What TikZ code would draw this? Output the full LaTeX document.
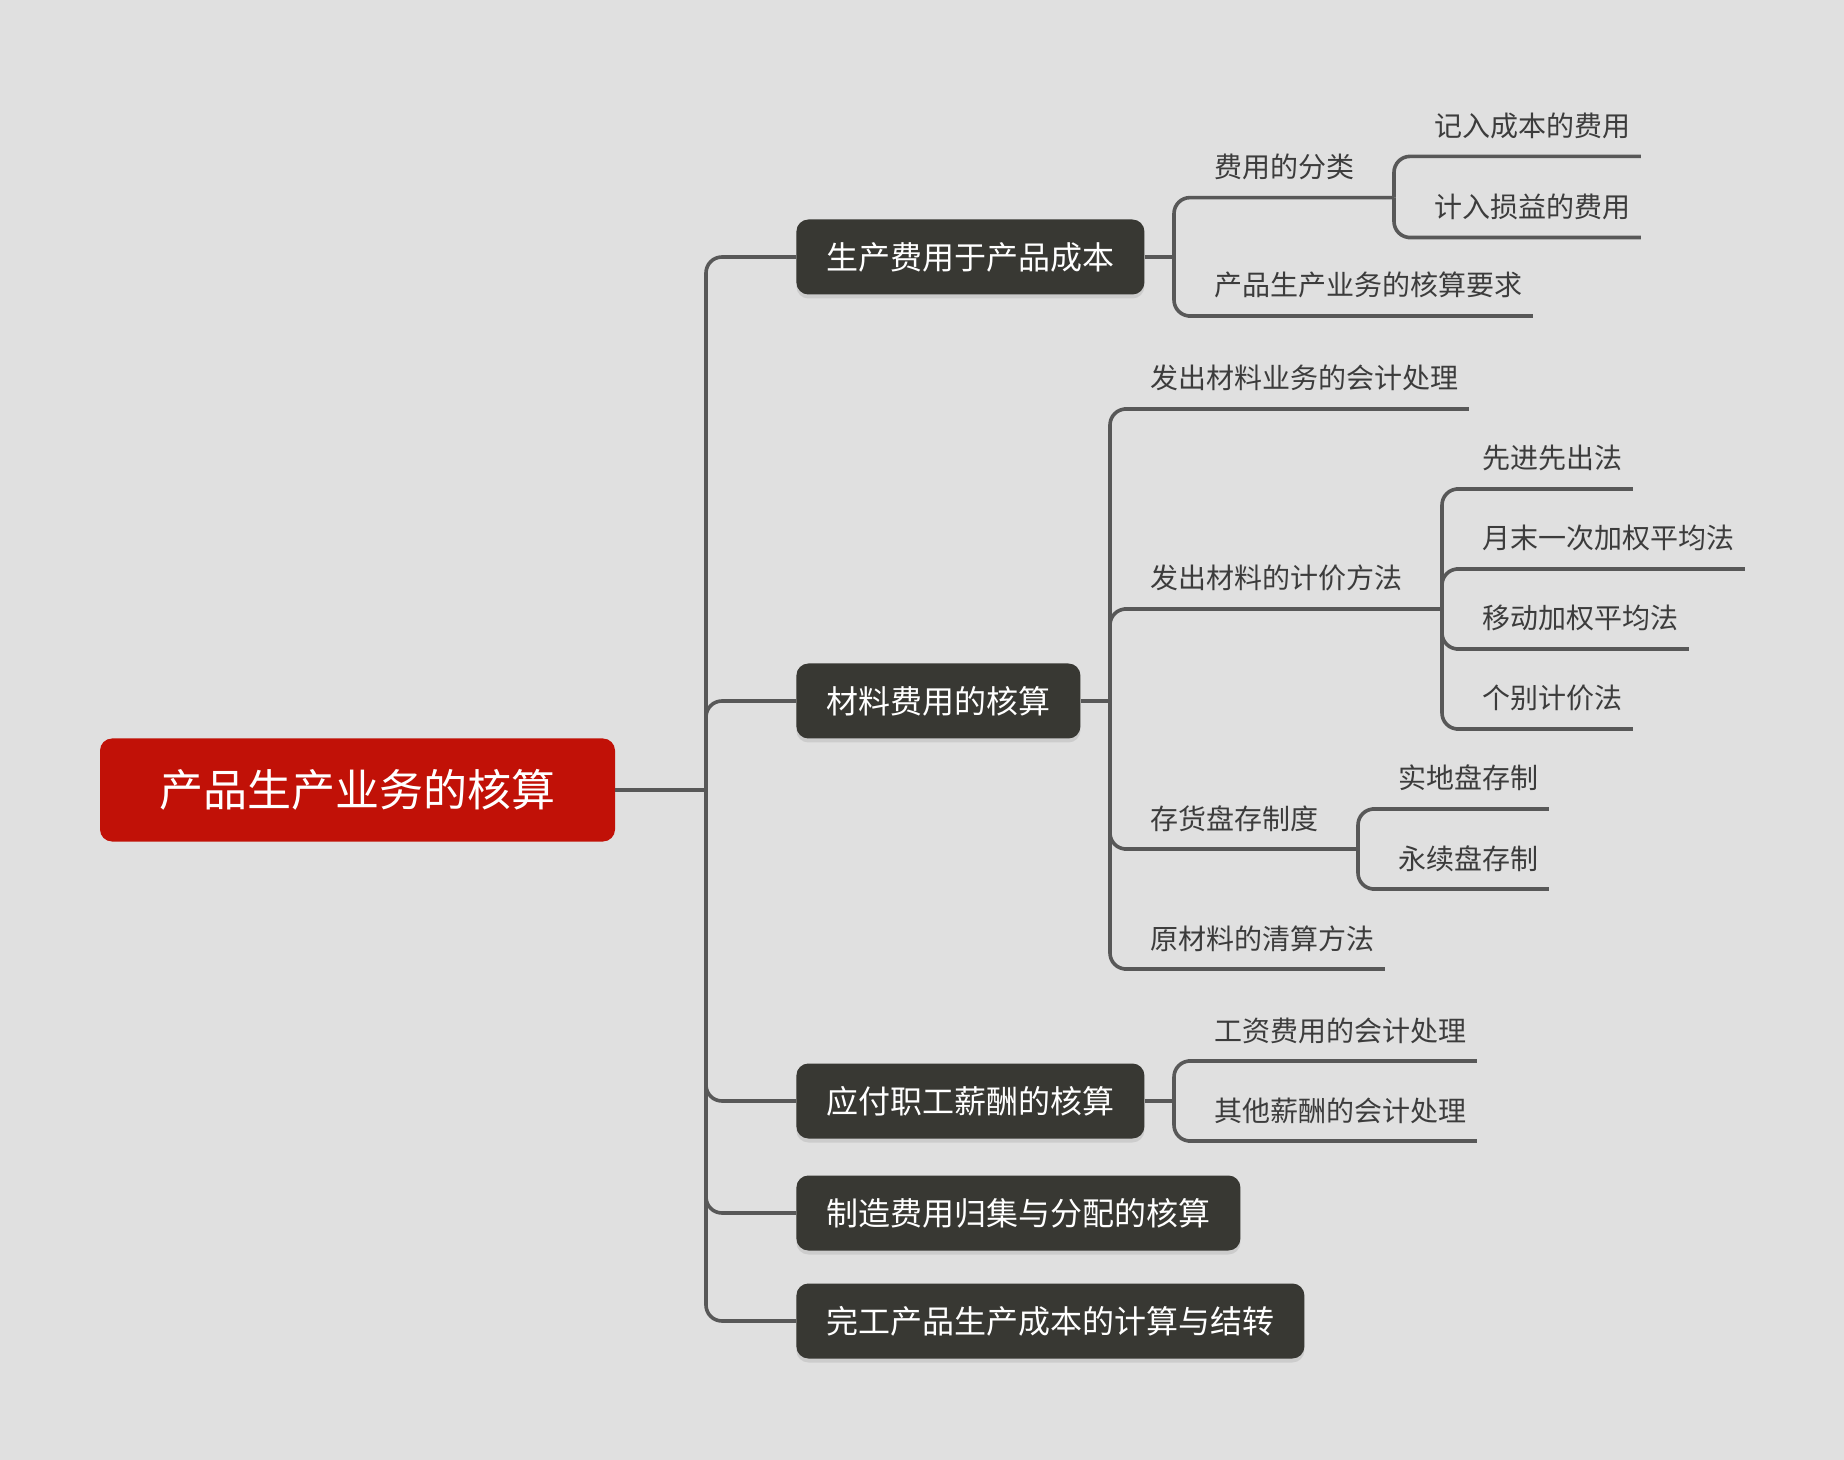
\documentclass[tikz,border=0pt]{standalone}
\usepackage{fontspec}
\setmainfont{Noto Sans CJK SC}
\usepackage{xcolor}
\usetikzlibrary{positioning,shadows}
\definecolor{bgc}{RGB}{224,224,224}
\definecolor{rootc}{RGB}{193,17,7}
\definecolor{boxc}{RGB}{56,56,51}
\definecolor{linec}{RGB}{88,88,88}
\definecolor{leafc}{RGB}{60,60,60}

\begin{document}
\begin{tikzpicture}[x=0.5pt, y=-0.5pt,
  link/.style={draw=linec, line width=1.8pt, rounded corners=8pt},
  root/.style={fill=rootc, text=white, font=\fontsize{22}{26}\selectfont, rounded corners=6pt, minimum width=257.5pt, minimum height=51.5pt},
  branch/.style={fill=boxc, text=white, font=\fontsize{16}{19}\selectfont, rounded corners=6pt, inner xsep=15pt, minimum height=37.5pt, anchor=west, drop shadow={shadow xshift=0pt, shadow yshift=-2pt, opacity=.2}},
  leaf/.style={text=leafc, font=\fontsize{14}{17}\selectfont, anchor=south west, inner xsep=5pt, inner ysep=0pt, text depth=9.8pt}
]
\fill[bgc] (0,0) rectangle (1844,1460);

\node[root] (root) at (357.5,790) {产品生产业务的核算};
\coordinate (trunk) at (706,790);
\draw[link] (root.east) -- (trunk);

\node[branch] (b1) at (796,257) {生产费用于产品成本};
\node[branch] (b2) at (796,701) {材料费用的核算};
\node[branch] (b3) at (796,1101) {应付职工薪酬的核算};
\node[branch] (b4) at (796,1213) {制造费用归集与分配的核算};
\node[branch] (b5) at (796,1321) {完工产品生产成本的计算与结转};
\foreach \b in {b1,b2,b3,b4,b5}
  \draw[link] (trunk) |- (\b.west);

% 生产费用于产品成本
\coordinate (s1) at (1174,257);
\coordinate (s11) at (1394,197.6);
\draw[link] (b1.east) -- (s1);
\node[leaf] (n11) at (1204,197.6) {费用的分类};
\node[leaf] (n12) at (1204,316) {产品生产业务的核算要求};
\draw[link] (s1) |- (n11.south west) -- (n11.south west -| s11);
\draw[link] (s1) |- (n12.south west) -- (n12.south east);
\foreach \nm/\y/\tx in {n111/156.4/记入成本的费用, n112/237.5/计入损益的费用} {
  \node[leaf] (\nm) at (1424,\y) {\tx};
  \draw[link] (s11) |- (\nm.south west) -- (\nm.south east);
}

% 材料费用的核算
\coordinate (s2) at (1110,701);
\coordinate (s22) at (1442,609);
\coordinate (s23) at (1358,849);
\draw[link] (b2.east) -- (s2);
\node[leaf] (n21) at (1140,409) {发出材料业务的会计处理};
\node[leaf] (n22) at (1140,609) {发出材料的计价方法};
\node[leaf] (n23) at (1140,849) {存货盘存制度};
\node[leaf] (n24) at (1140,969) {原材料的清算方法};
\draw[link] (s2) |- (n21.south west) -- (n21.south east);
\draw[link] (s2) |- (n22.south west) -- (n22.south west -| s22);
\draw[link] (s2) |- (n23.south west) -- (n23.south west -| s23);
\draw[link] (s2) |- (n24.south west) -- (n24.south east);
\foreach \nm/\y/\tx in {n221/489/先进先出法, n222/569/月末一次加权平均法, n223/649/移动加权平均法, n224/729/个别计价法} {
  \node[leaf] (\nm) at (1472,\y) {\tx};
  \draw[link] (s22) |- (\nm.south west) -- (\nm.south east);
}
\foreach \nm/\y/\tx in {n231/809/实地盘存制, n232/889/永续盘存制} {
  \node[leaf] (\nm) at (1388,\y) {\tx};
  \draw[link] (s23) |- (\nm.south west) -- (\nm.south east);
}

% 应付职工薪酬的核算
\coordinate (s3) at (1174,1101);
\draw[link] (b3.east) -- (s3);
\foreach \nm/\y/\tx in {n31/1061/工资费用的会计处理, n32/1141/其他薪酬的会计处理} {
  \node[leaf] (\nm) at (1204,\y) {\tx};
  \draw[link] (s3) |- (\nm.south west) -- (\nm.south east);
}
\end{tikzpicture}
\end{document}
